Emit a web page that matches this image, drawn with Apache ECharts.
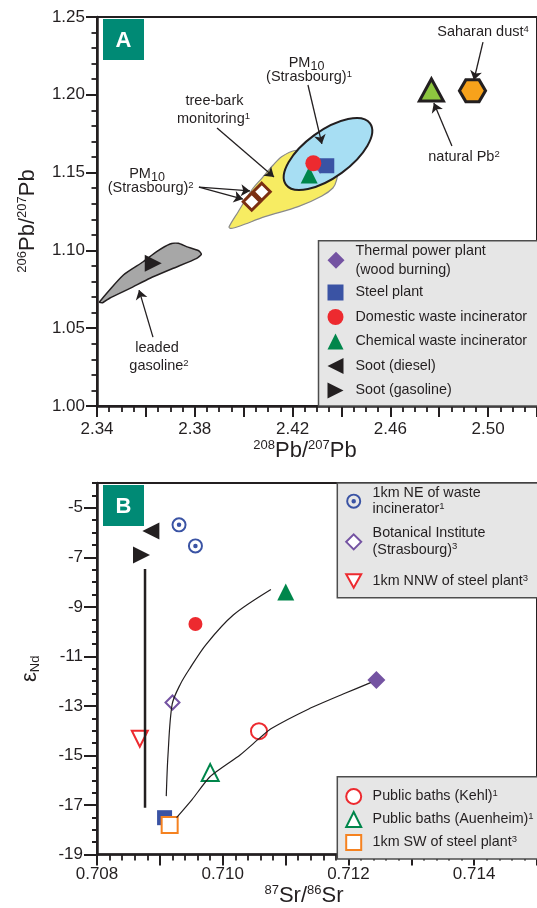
<!DOCTYPE html>
<html>
<head>
<meta charset="UTF-8">
<title>Pb and Sr-Nd isotope plots</title>
<script src="https://cdn.jsdelivr.net/npm/echarts@6/dist/echarts.min.js"></script>
<style>
  html, body { margin: 0; padding: 0; background: #fff; }
  #main { width: 537px; height: 908px; }
</style>
</head>
<body>
<div id="main"></div>
<script>
// ---------- panel A : 206Pb/207Pb vs 208Pb/207Pb ----------
var xTicksA = [2.34, 2.38, 2.42, 2.46, 2.50];
var yTicksA = [1.00, 1.05, 1.10, 1.15, 1.20, 1.25];

// outlines (x, y)
var treeBark = [[2.3940, 1.1150], [2.3977, 1.1247], [2.4033, 1.1388], [2.4074, 1.1463], [2.4121, 1.1549],
  [2.4155, 1.1602], [2.4210, 1.1642], [2.4271, 1.1632], [2.4353, 1.1568], [2.4382, 1.1504],
  [2.4380, 1.1452], [2.4365, 1.1401], [2.4320, 1.1350], [2.4223, 1.1281], [2.4087, 1.1217],
  [2.3985, 1.1157], [2.3948, 1.1141]];
// PM10 field: both ends of the long axis, then one end of the short axis
var pm10Ellipse = [[2.4173, 1.1423], [2.4517, 1.1816], [2.4290, 1.1742]];
var leadedGas = [[2.3410, 1.0668], [2.3508, 1.0842], [2.3589, 1.0927], [2.3644, 1.0992], [2.3699, 1.1041],
  [2.3733, 1.1046], [2.3766, 1.1024], [2.3816, 1.0998], [2.3827, 1.0975], [2.3808, 1.0949],
  [2.3712, 1.0885], [2.3617, 1.0821], [2.3535, 1.0756], [2.3453, 1.0694], [2.3423, 1.0664]];

var thermalA = [[2.4314, 1.1543]];
var steelA = [[2.4340, 1.1544]];
var chemA = [[2.4268, 1.1484]];
var domesticA = [[2.4285, 1.1560]];
var sootDieselA = [];
var sootGasA = [[2.3630, 1.0917]];
var pm10Str2 = [[2.4074, 1.1377], [2.4033, 1.1313]];
var naturalPb = [[2.4768, 1.2031]];
var saharanDust = [[2.4936, 1.2026]];

// arrows: [from, to]
var arrowsA = [
  [[2.4979, 1.2339], [2.4942, 1.2095]],
  [[2.4852, 1.1671], [2.4778, 1.1947]],
  [[2.4263, 1.2063], [2.4320, 1.1684]],
  [[2.3891, 1.1787], [2.4124, 1.1472]],
  [[2.3817, 1.1407], [2.4026, 1.1382]],
  [[2.3817, 1.1407], [2.3997, 1.1330]],
  [[2.3629, 1.0443], [2.3572, 1.0745]]
];

// ---------- panel B : eps Nd vs 87Sr/86Sr ----------
var xTicksB = [0.708, 0.710, 0.712, 0.714];
var yTicksB = [-19, -17, -15, -13, -11, -9, -7, -5];

var mixLineV = [[0.708764, -7.47], [0.708764, -17.11]];
var mixCurve1 = [[0.709102, -16.64], [0.709129, -15.00], [0.709196, -12.93], [0.709324, -12.13],
  [0.709483, -11.46], [0.709731, -10.53], [0.710168, -9.33], [0.710767, -8.30]];
var mixCurve2 = [[0.709266, -17.51], [0.709512, -16.78], [0.709801, -15.85], [0.710276, -14.98],
  [0.710577, -14.32], [0.710767, -13.92], [0.711369, -13.12], [0.711916, -12.52], [0.712353, -12.06]];

var neWaste = [[0.709305, -5.69], [0.709566, -6.54]];
var botanical = [[0.709201, -12.86]];
var nnwSteel = [[0.708681, -14.32]];
var kehl = [[0.710577, -14.02]];
var auenheim = [[0.709801, -15.69]];
var swSteel = [[0.709156, -17.81]];
var thermalB = [[0.712445, -11.95]];
var steelB = [[0.709075, -17.51]];
var domesticB = [[0.709566, -9.69]];
var chemB = [[0.711003, -8.40]];
var sootDieselB = [[0.708857, -5.94]];
var sootGasB = [[0.708708, -6.91]];

// ---------- styling ----------
var ink = '#231f20';
var font = "'Liberation Sans', Arial, sans-serif";
var purple = '#7453a2', blue = '#3a53a4', red = '#ed2a2f', green = '#00864b';
var orange = '#f58220', brown = '#7a2e12', teal = '#008a75';
var targetPath = 'path://M10 0A10 10 0 1 1 10 20A10 10 0 1 1 10 0ZM10 2.6A7.4 7.4 0 1 0 10 17.4A7.4 7.4 0 1 0 10 2.6ZM10 7A3 3 0 1 1 10 13A3 3 0 1 1 10 7Z';
var hexPath = 'path://M0 10L5 1.3L15 1.3L20 10L15 18.7L5 18.7Z';
var leftTri = 'path://M20 0L0 10L20 20Z';
var rightTri = 'path://M0 0L20 10L0 20Z';
var downTri = 'path://M0 0L20 0L10 18Z';

function near(list, v) {
  for (var i = 0; i < list.length; i++) if (Math.abs(list[i] - v) < 1e-7) return true;
  return false;
}

function scatter(name, data, g, symbol, size, style) {
  return {
    type: 'scatter', name: name, data: data,
    xAxisIndex: g, yAxisIndex: g,
    symbol: symbol, symbolSize: size,
    itemStyle: Object.assign({ opacity: 1 }, style),
    emphasis: { disabled: true }, silent: true
  };
}

function polygon(name, pts, fill, stroke, width, smooth) {
  return {
    type: 'custom', name: name, data: pts, encode: { x: 0, y: 1 },
    xAxisIndex: 0, yAxisIndex: 0, silent: true,
    renderItem: function (params, api) {
      if (params.dataIndex !== 0) return null;
      return {
        type: 'polygon',
        shape: { points: pts.map(function (p) { return api.coord(p); }), smooth: smooth },
        style: { fill: fill, stroke: stroke, lineWidth: width }
      };
    }
  };
}

function ellipseField(name, pts, fill, stroke, width) {
  return {
    type: 'custom', name: name, data: pts, encode: { x: 0, y: 1 },
    xAxisIndex: 0, yAxisIndex: 0, silent: true,
    renderItem: function (params, api) {
      if (params.dataIndex !== 0) return null;
      var p1 = api.coord(pts[0]), p2 = api.coord(pts[1]), p3 = api.coord(pts[2]);
      var cx = (p1[0] + p2[0]) / 2, cy = (p1[1] + p2[1]) / 2;
      var rx = Math.hypot(p2[0] - p1[0], p2[1] - p1[1]) / 2;
      var ry = Math.hypot(p3[0] - cx, p3[1] - cy);
      return {
        type: 'ellipse', x: cx, y: cy,
        rotation: -Math.atan2(p2[1] - p1[1], p2[0] - p1[0]),
        shape: { cx: 0, cy: 0, rx: rx, ry: ry },
        style: { fill: fill, stroke: stroke, lineWidth: width }
      };
    }
  };
}

function mixLine(name, data, width, smooth) {
  return {
    type: 'line', name: name, data: data, xAxisIndex: 1, yAxisIndex: 1,
    showSymbol: false, symbol: 'none', smooth: smooth, silent: true,
    lineStyle: { color: ink, width: width }
  };
}

var legendText = {
  'Thermal power plant': '{t|Thermal power plant}\n{t|(wood burning)}',
  '1km NE of waste incinerator': '{t|1km NE of waste}\n{t|incinerator}{s|1}',
  'Botanical Institute (Strasbourg)': '{t|Botanical Institute}\n{t|(Strasbourg)}{s|3}',
  '1km NNW of steel plant': '{t|1km NNW of steel plant}{s|3}',
  'Public baths (Kehl)': '{t|Public baths (Kehl)}{s|1}',
  'Public baths (Auenheim)': '{t|Public baths (Auenheim)}{s|1}',
  '1km SW of steel plant': '{t|1km SW of steel plant}{s|3}'
};

function legendBlock(names, left, top, size, gap, lh, pad) {
  return {
    data: names, orient: 'vertical', left: left, top: top, padding: 0,
    itemWidth: size, itemHeight: size, itemGap: gap, selectedMode: false,
    formatter: function (n) { return legendText[n] || '{t|' + n + '}'; },
    textStyle: {
      color: ink, fontFamily: font, fontSize: 14.3,
      rich: {
        t: { fontSize: 14.3, lineHeight: lh, padding: [0, 0, 0, pad], fontFamily: font, color: ink },
        s: { fontSize: 9.5, lineHeight: 6, verticalAlign: 'top', fontFamily: font, color: ink }
      }
    }
  };
}

var annRich = {
  n: { fontSize: 14.5, lineHeight: 16, verticalAlign: 'top', fontFamily: font, color: ink },
  s: { fontSize: 9.5, lineHeight: 6, verticalAlign: 'top', fontFamily: font, color: ink },
  d: { fontSize: 12.5, lineHeight: 14, padding: [5, 0, 0, 0], verticalAlign: 'top', fontFamily: font, color: ink }
};
function note(text, x, y) {
  return {
    type: 'text', x: x, y: y, z: 10, silent: true,
    style: { text: text, rich: annRich, align: 'center', verticalAlign: 'middle', fill: ink }
  };
}
function box(x, y, w, h) {
  return { type: 'rect', z: 3, silent: true, shape: { x: x, y: y, width: w, height: h },
    style: { fill: '#e6e6e6', stroke: '#4d4d4d', lineWidth: 1.5 } };
}
function badge(letter, x, y) {
  return [
    { type: 'rect', z: 10, silent: true, shape: { x: x, y: y, width: 41, height: 41 }, style: { fill: teal } },
    { type: 'text', z: 11, silent: true, x: x + 20.5, y: y + 22,
      style: { text: letter, fill: '#fff', font: 'bold 22px ' + font, align: 'center', verticalAlign: 'middle' } }
  ];
}

var nameRich = {
  n: { fontSize: 22, lineHeight: 24, fontFamily: font, color: ink },
  s: { fontSize: 13, lineHeight: 10, verticalAlign: 'top', fontFamily: font, color: ink },
  d: { fontSize: 13, lineHeight: 14, verticalAlign: 'bottom', fontFamily: font, color: ink }
};

function valueAxis(opts) {
  return Object.assign({
    type: 'value', splitLine: { show: false },
    axisLine: { onZero: false, lineStyle: { color: ink, width: 2.5 } },
    axisTick: { inside: false, length: 11, lineStyle: { color: ink, width: 2 } },
    minorTick: { show: true, length: 6, lineStyle: { color: ink, width: 1.8 } },
    minorSplitLine: { show: false },
    axisLabel: { color: ink, fontFamily: font, fontSize: 17 }
  }, opts);
}

var chart = echarts.init(document.getElementById('main'));

var option = {
  animation: false,
  textStyle: { fontFamily: font },
  grid: [
    { left: 97, right: -1, top: 17, bottom: 502, show: true, borderColor: ink, borderWidth: 2, backgroundColor: 'transparent' },
    { left: 97, right: -1, top: 483, bottom: 49, show: true, borderColor: ink, borderWidth: 2, backgroundColor: 'transparent' }
  ],
  xAxis: [
    valueAxis({
      gridIndex: 0, position: 'bottom', min: 2.34, max: 2.52, interval: 0.02,
      minorTick: { show: true, splitNumber: 4, length: 6, lineStyle: { color: ink, width: 1.8 } },
      axisLabel: { color: ink, fontFamily: font, fontSize: 17, margin: 15, customValues: xTicksA,
        formatter: function (v) { return near(xTicksA, v) ? v.toFixed(2) : ''; } },
      name: '{s|208}{n|Pb/}{s|207}{n|Pb}', nameLocation: 'middle', nameGap: 33,
      nameTextStyle: { padding: [0, 24, 0, 0], rich: nameRich }
    }),
    valueAxis({
      gridIndex: 1, position: 'bottom', min: 0.708, max: 0.715, interval: 0.001,
      minorTick: { show: true, splitNumber: 5, length: 6, lineStyle: { color: ink, width: 1.8 } },
      axisLabel: { color: ink, fontFamily: font, fontSize: 17, margin: 11.5, customValues: xTicksB,
        formatter: function (v) { return near(xTicksB, v) ? v.toFixed(3) : ''; } },
      name: '{s|87}{n|Sr/}{s|86}{n|Sr}', nameLocation: 'middle', nameGap: 27,
      nameTextStyle: { padding: [0, 26, 0, 0], rich: nameRich }
    })
  ],
  yAxis: [
    valueAxis({
      gridIndex: 0, position: 'left', offset: 0, min: 1.0, max: 1.25, interval: 0.05,
      minorTick: { show: true, splitNumber: 5, length: 5.5, lineStyle: { color: ink, width: 1.8 } },
      axisLabel: { color: ink, fontFamily: font, fontSize: 17, margin: 12, customValues: yTicksA,
        formatter: function (v) { return v.toFixed(2); } },
      name: '{s|206}{n|Pb/}{s|207}{n|Pb}', nameLocation: 'middle', nameGap: 57,
      nameTextStyle: { padding: [0, 19, 0, 0], rich: nameRich }
    }),
    valueAxis({
      gridIndex: 1, position: 'left', offset: 0, min: -19, max: -4, interval: 0.5,
      axisTick: { inside: false, length: 5, lineStyle: { color: ink, width: 2 } },
      minorTick: { show: false },
      axisLabel: { color: ink, fontFamily: font, fontSize: 17, margin: 14, customValues: yTicksB,
        formatter: function (v) { return String(v); } },
      name: '{n|ε}{d|Nd}', nameLocation: 'middle', nameGap: 55,
      nameTextStyle: { rich: nameRich }
    }),
    valueAxis({
      gridIndex: 1, position: 'left', offset: 0, min: -19, max: -4,
      axisLine: { show: false },
      axisTick: { inside: false, length: 13, customValues: yTicksB, lineStyle: { color: ink, width: 2 } },
      minorTick: { show: false },
      axisLabel: { show: false }
    })
  ],
  legend: [
    legendBlock(['Thermal power plant'], 327.5, 244, 17, 8, 18.7, 6),
    legendBlock(['Steel plant', 'Domestic waste incinerator', 'Chemical waste incinerator', 'Soot (diesel)', 'Soot (gasoline)'],
      327.5, 284.5, 16, 8.5, 16, 7),
    legendBlock(['1km NE of waste incinerator', 'Botanical Institute (Strasbourg)'], 345.2, 485.8, 15, 10, 16.7, 6.4),
    legendBlock(['1km NNW of steel plant'], 345.2, 573, 15, 10, 16, 6.4),
    legendBlock(['Public baths (Kehl)', 'Public baths (Auenheim)', '1km SW of steel plant'], 345.2, 788, 15, 6, 16, 6.4)
  ],
  graphic: [
    box(318.5, 240.7, 230, 165.3),
    box(337.3, 483, 210, 114.7),
    box(337.3, 776.7, 210, 82.3),
    note('{n|Saharan dust}{s|4}', 483, 32),
    note('{n|natural Pb}{s|2}', 464, 157),
    note('{n|PM}{d|10}', 306.5, 63),
    note('{n|(Strasbourg)}{s|1}', 309, 77),
    note('{n|tree-bark}', 214.5, 101),
    note('{n|monitoring}{s|1}', 213.5, 119),
    note('{n|PM}{d|10}', 147, 174.5),
    note('{n|(Strasbourg)}{s|2}', 150.7, 188.3),
    note('{n|leaded}', 157, 348.3),
    note('{n|gasoline}{s|2}', 159, 366.7)
  ].concat(badge('A', 103, 19), badge('B', 103, 485)),
  series: [
    polygon('tree-bark monitoring', treeBark, '#f7ec62', '#8a8a8a', 1.2, 0.3),
    ellipseField('PM10 (Strasbourg) 1', pm10Ellipse, '#a7def3', ink, 2),
    polygon('leaded gasoline', leadedGas, '#a7a7a7', ink, 1.5, 0.2),
    scatter('Thermal power plant', thermalA, 0, 'diamond', 15, { color: purple }),
    scatter('Steel plant', steelA, 0, 'rect', 15, { color: blue }),
    scatter('Chemical waste incinerator', chemA, 0, 'triangle', 17, { color: green }),
    scatter('Domestic waste incinerator', domesticA, 0, 'circle', 16, { color: red }),
    scatter('Soot (diesel)', sootDieselA, 0, leftTri, 17, { color: ink }),
    scatter('Soot (gasoline)', sootGasA, 0, rightTri, 17, { color: ink }),
    Object.assign(scatter('PM10 (Strasbourg) 2', pm10Str2, 0, 'diamond', 17, { color: '#fff', borderColor: brown, borderWidth: 3 }), {
      markLine: {
        silent: true, symbol: ['none', 'arrow'], symbolSize: 9, animation: false,
        label: { show: false },
        lineStyle: { color: ink, width: 1.3, type: 'solid' },
        emphasis: { disabled: true },
        data: arrowsA.map(function (a) { return [{ coord: a[0] }, { coord: a[1] }]; })
      }
    }),
    scatter('natural Pb', naturalPb, 0, 'triangle', [24, 22], { color: '#8dc63f', borderColor: ink, borderWidth: 3 }),
    scatter('Saharan dust', saharanDust, 0, hexPath, [26, 22], { color: '#f7a21b', borderColor: ink, borderWidth: 3 }),

    mixLine('mixing vertical', mixLineV, 2.5, false),
    mixLine('mixing curve 1', mixCurve1, 1.2, 0.3),
    mixLine('mixing curve 2', mixCurve2, 1.2, 0.2),
    scatter('Thermal power plant', thermalB, 1, 'diamond', 18, { color: purple }),
    scatter('Steel plant', steelB, 1, 'rect', 15, { color: blue }),
    scatter('Domestic waste incinerator', domesticB, 1, 'circle', 14, { color: red }),
    scatter('Chemical waste incinerator', chemB, 1, 'triangle', 17, { color: green }),
    scatter('Soot (diesel)', sootDieselB, 1, leftTri, 17, { color: ink }),
    scatter('Soot (gasoline)', sootGasB, 1, rightTri, 17, { color: ink }),
    scatter('1km NE of waste incinerator', neWaste, 1, targetPath, 15, { color: blue }),
    scatter('Botanical Institute (Strasbourg)', botanical, 1, 'diamond', 14, { color: '#fff', borderColor: purple, borderWidth: 2 }),
    scatter('1km NNW of steel plant', nnwSteel, 1, downTri, 16, { color: '#fff', borderColor: red, borderWidth: 2 }),
    scatter('Public baths (Kehl)', kehl, 1, 'circle', 16, { color: '#fff', borderColor: red, borderWidth: 2 }),
    scatter('Public baths (Auenheim)', auenheim, 1, 'triangle', 17, { color: '#fff', borderColor: green, borderWidth: 2 }),
    scatter('1km SW of steel plant', swSteel, 1, 'rect', 16, { color: '#fff', borderColor: orange, borderWidth: 2 })
  ]
};

chart.setOption(option);
</script>
</body>
</html>
